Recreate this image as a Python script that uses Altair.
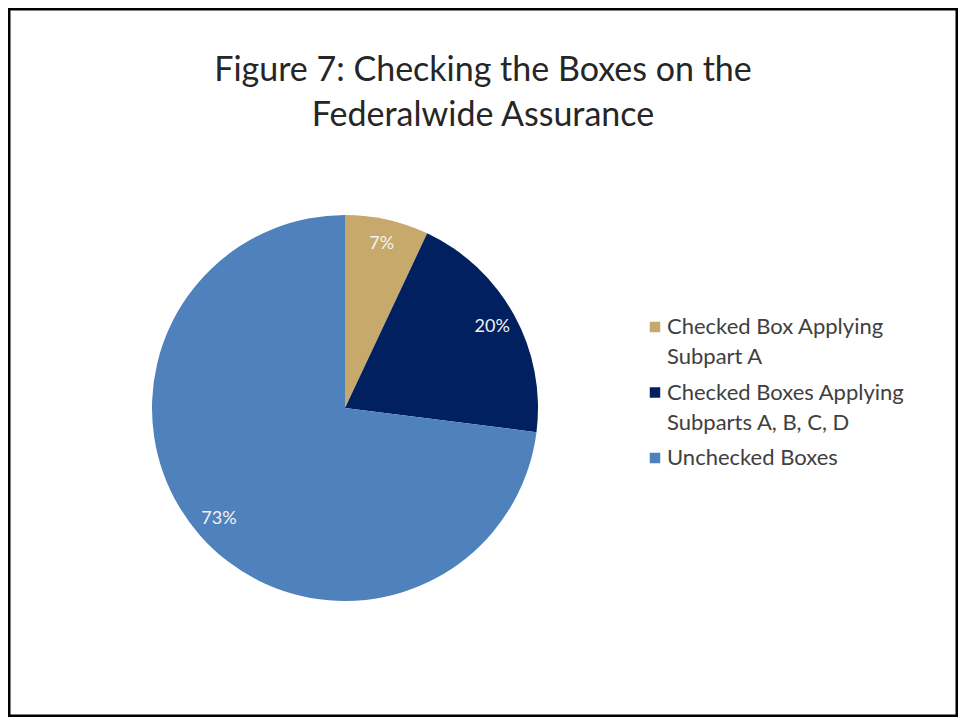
import altair as alt
import pandas as pd

categories = [
    "Checked Box Applying Subpart A",
    "Checked Boxes Applying Subparts A, B, C, D",
    "Unchecked Boxes",
]
legend_text = [
    "Checked Box Applying\nSubpart A",
    "Checked Boxes Applying\nSubparts A, B, C, D",
    "Unchecked Boxes",
]
values = [7, 20, 73]
pct_labels = ["7%", "20%", "73%"]
colors = ["#C6A96B", "#002060", "#4F81BD"]
title_lines = ["Figure 7: Checking the Boxes on the", "Federalwide  Assurance"]

df = pd.DataFrame({
    "category": categories,
    "legend": legend_text,
    "value": values,
    "label": pct_labels,
    "idx": list(range(len(categories))),
})
title_df = pd.DataFrame({"title": ["\n".join(title_lines)]})

W, H = 950, 709
CX, CY, R = 337, 400, 193

color = alt.Color("category:N", scale=alt.Scale(domain=categories, range=colors), legend=None)
theta = alt.Theta("value:Q", stack=True)
order = alt.Order("idx:O")

base = alt.Chart(df)

title = alt.Chart(title_df).mark_text(
    align="center", baseline="middle", lineBreak="\n", lineHeight=45,
    fontSize=34, font="Lato", color="#262626",
).encode(x=alt.value(475), y=alt.value(63), text="title:N")

pie = base.mark_arc(radius=R).encode(
    theta=theta, color=color, order=order,
    x=alt.value(CX), y=alt.value(CY),
)
pie_labels = base.mark_text(radius=168, fontSize=18, font="Lato", color="#F2F2F2").encode(
    theta=theta, order=order, text="label:N",
    x=alt.value(CX), y=alt.value(CY),
)

ly = alt.Y("idx:Q", scale=alt.Scale(domain=[0, 2], range=[327 - 8, 458 - 8]), axis=None)
leg_sym = base.mark_square(size=110, opacity=1).encode(
    x=alt.value(655 - 8), y=ly, color=color,
)
leg_txt = base.mark_text(
    align="left", baseline="alphabetic", dy=7, lineBreak="\n", lineHeight=30,
    fontSize=22, font="Lato", color="#404040",
).encode(x=alt.value(667 - 8), y=ly, text="legend:N")

chart = alt.layer(title, pie, pie_labels, leg_sym, leg_txt).properties(
    width=W, height=H,
    autosize=alt.AutoSizeParams(type="fit", contains="padding"),
    padding=0,
).configure_view(stroke="black", strokeWidth=5)

chart.save("out.html", embed_options={"renderer": "svg", "actions": False})
